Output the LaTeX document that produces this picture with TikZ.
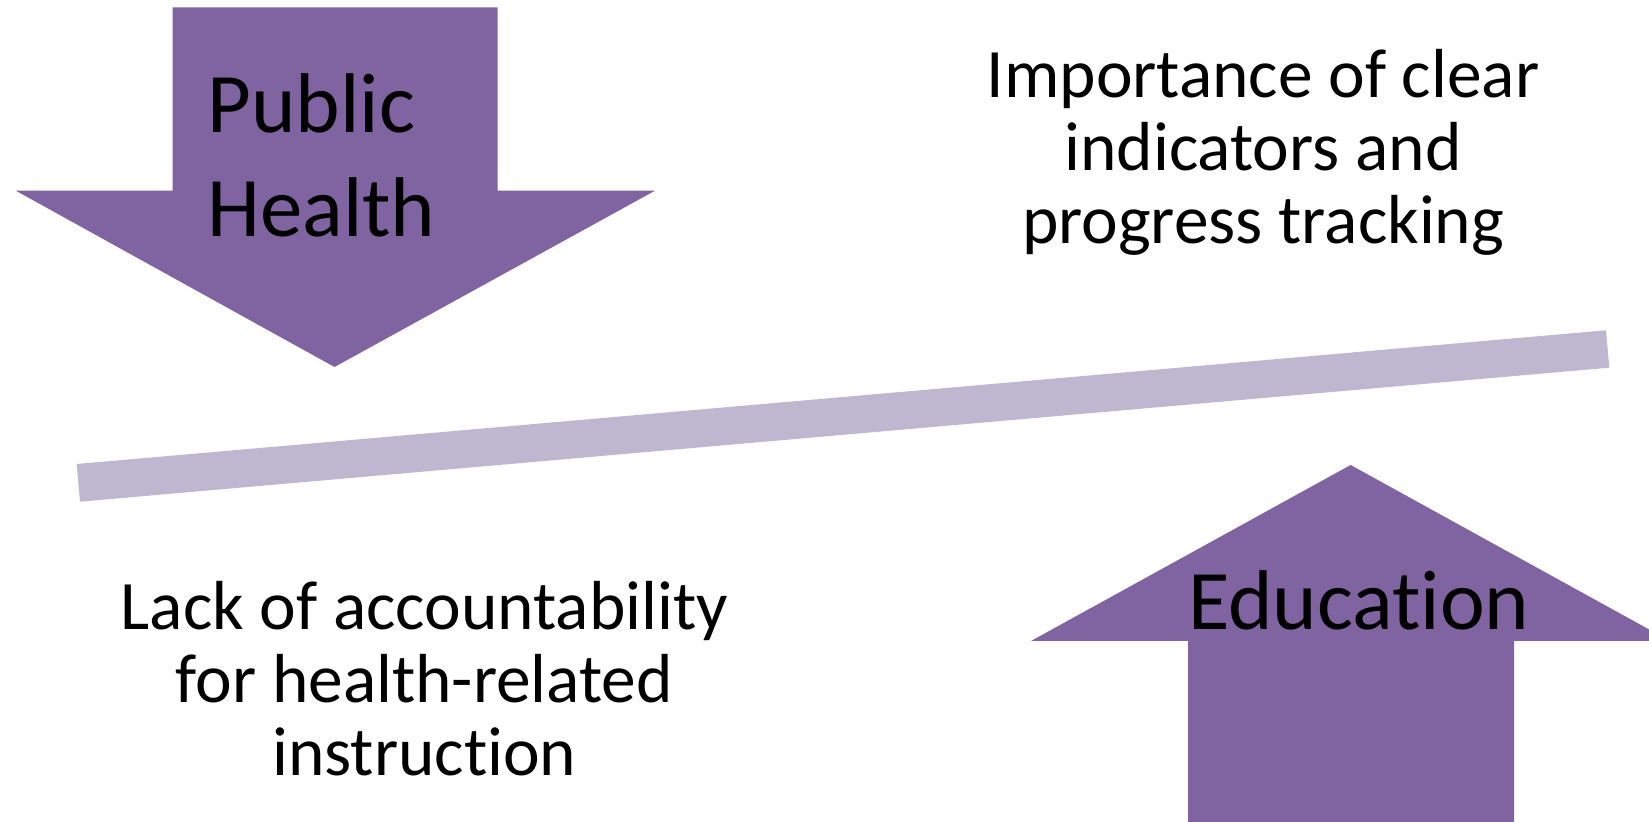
\documentclass[tikz,border=0pt]{standalone}
\usepackage{fontspec}
\setmainfont{Carlito}[Ligatures={NoCommon}]
\usepackage{tikz}
\usepackage{xcolor}
\definecolor{arrowpurple}{RGB}{128,100,162}
\definecolor{barlilac}{RGB}{191,183,208}

\begin{document}
\begin{tikzpicture}[x=0.5pt,y=0.5pt,yscale=-1,xscale=1]
\useasboundingbox (0,0) rectangle (1649,822);
\clip (0,0) rectangle (1649,822);

%Shape: Down Arrow [id:pubarrow]
\draw  [draw=none,fill=arrowpurple] (172.5,7.5) -- (497.5,7.5) -- (497.5,190.7) -- (655,190.7) -- (334.5,367) -- (15.8,190.7) -- (172.5,190.7) -- cycle ;
%Shape: Up Arrow [id:eduarrow]
\draw  [draw=none,fill=arrowpurple] (1188,830) -- (1514,830) -- (1514,641) -- (1670,641) -- (1350.6,465) -- (1031,641) -- (1188,641) -- cycle ;
%Shape: Bar [id:balancebar]
\draw  [draw=none,fill=barlilac] (76.7,464) -- (1606,330.3) -- (1609.3,367.7) -- (80,501.7) -- cycle ;

% Text Node
\draw (207,236.5) node (pubhealth) [anchor=base west][inner sep=0pt][align=left,font=\fontsize{42.4}{52}\selectfont]  {Public\\Health};
% Text Node
\draw (1358.8,630) node (educ) [anchor=base][inner sep=0pt][font=\fontsize{42.4}{50.8}\selectfont]  {Education};
% Text Node
\draw (1263,244) node (clearind) [anchor=base][inner sep=0pt][align=center,font=\fontsize{34.7}{36.5}\selectfont]  {Importance of clear\\indicators and\\progress tracking};
% Text Node
\draw (424.4,775.5) node (lackacc) [anchor=base][inner sep=0pt][align=center,font=\fontsize{34.7}{36.5}\selectfont]  {Lack of accountability\\for health-related\\instruction};

\end{tikzpicture}
\end{document}
